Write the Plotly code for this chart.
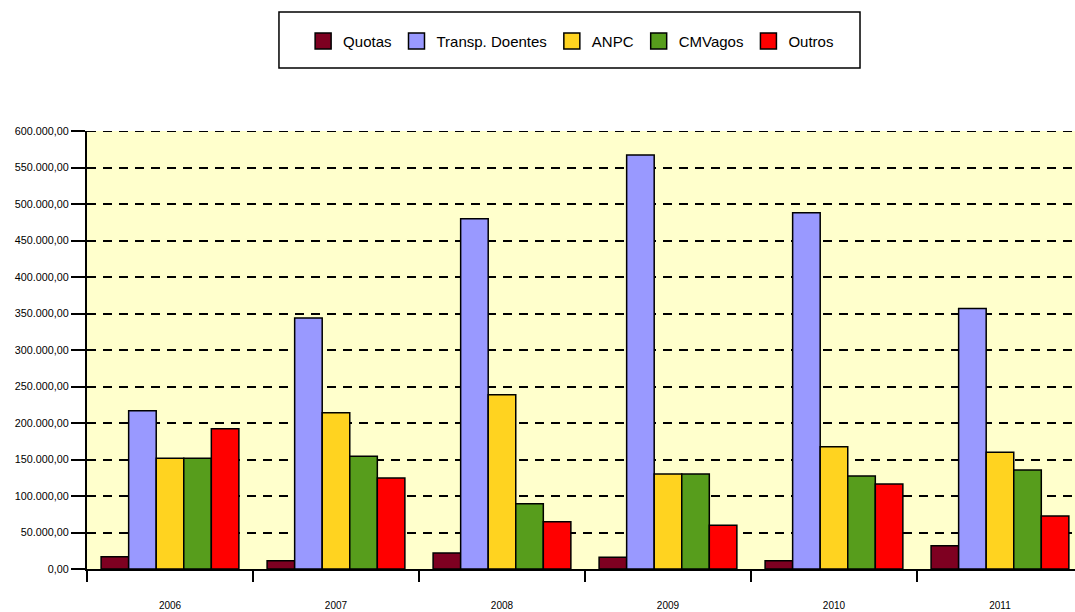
import plotly.graph_objects as go

years = ["2006", "2007", "2008", "2009", "2010", "2011"]

quotas = [16800, 11400, 21900, 16000, 11400, 32000]
transp_doentes = [216800, 343800, 479900, 567000, 488000, 357000]
anpc = [151600, 214000, 238800, 130000, 167500, 159800]
cmvagos = [151600, 154400, 89500, 130000, 127400, 135600]
outros = [192200, 124700, 64800, 60000, 116400, 72600]

series = [
    ("Quotas", quotas, "#7e0021"),
    ("Transp. Doentes", transp_doentes, "#9999ff"),
    ("ANPC", anpc, "#ffd320"),
    ("CMVagos", cmvagos, "#579d1c"),
    ("Outros", outros, "#ff0000"),
]

Y_MAX = 600000
Y_STEP = 50000

fig = go.Figure()
for name, values, color in series:
    fig.add_trace(go.Bar(
        name=name, x=years, y=values, legendgroup=name, showlegend=False,
        marker=dict(color=color, line=dict(color="black", width=1.5)),
    ))
# legend keys: larger square swatches with a black outline
for name, values, color in series:
    fig.add_trace(go.Scatter(
        name=name, x=[None], y=[None], mode="markers", legendgroup=name,
        marker=dict(symbol="square", size=19, color=color,
                    line=dict(color="black", width=1.5)),
    ))

fig.update_layout(
    width=1075, height=612,
    margin=dict(l=87, r=0, t=131, b=43),
    barmode="group", bargap=0.17, bargroupgap=0,
    paper_bgcolor="white", plot_bgcolor="#ffffcc",
    separators=",.",
    font=dict(family="Liberation Sans, Arial, sans-serif", color="black", size=10),
    showlegend=True,
    legend=dict(
        orientation="h", x=0.49, xanchor="center", y=1.205, yanchor="middle",
        bgcolor="rgba(0,0,0,0)", borderwidth=0,
        font=dict(size=15), traceorder="normal", itemsizing="trace",
    ),
    shapes=[
        dict(type="rect", xref="paper", yref="paper",
             x0=0.1943, x1=0.7824, y0=1.1438, y1=1.2717,
             line=dict(color="black", width=1.5), fillcolor="white", layer="below"),
        # top gridline sits on the plot edge
        dict(type="line", xref="paper", yref="y", x0=0, x1=1, y0=Y_MAX, y1=Y_MAX,
             line=dict(color="black", width=2, dash="9px,7px"), layer="below"),
    ],
)

fig.update_xaxes(
    type="category", range=[-0.5, 5.452],
    tickson="boundaries", ticks="outside", ticklen=11, tickwidth=2, tickcolor="black",
    showline=True, linecolor="black", linewidth=2,
    showgrid=False, ticklabelstandoff=26,
    tickfont=dict(size=10),
)
fig.update_yaxes(
    range=[0, Y_MAX], tickvals=list(range(0, Y_MAX + 1, Y_STEP)),
    tickformat=",.2f", ticks="outside", ticklen=14, tickwidth=2, tickcolor="black",
    showline=True, linecolor="black", linewidth=2,
    showgrid=True, gridcolor="black", gridwidth=2, griddash="9px,7px",
    zeroline=False, tickfont=dict(size=10.8),
)

fig.write_html("out.html")
